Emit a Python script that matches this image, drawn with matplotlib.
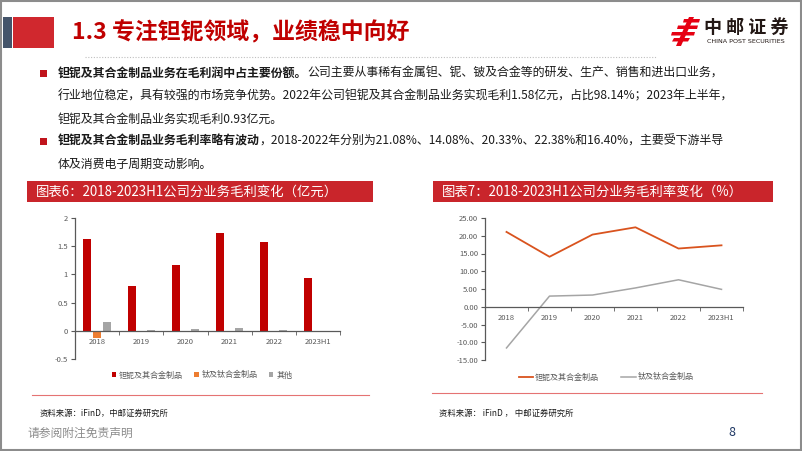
import matplotlib.pyplot as plt
from matplotlib.patches import Rectangle, Polygon
from matplotlib.lines import Line2D

plt.rcParams['font.family'] = ['Noto Sans CJK SC', 'DejaVu Sans']

W, H = 802, 451

# ── data ──────────────────────────────────────────────────────────────────────
years = ['2018', '2019', '2020', '2021', '2022', '2023H1']

tanb_profit = [1.63, 0.79, 1.17, 1.73, 1.58, 0.93]     # 钽铌及其合金制品 (亿元)
ti_profit = [-0.12, 0.0, 0.005, 0.0, 0.005, 0.0]       # 钛及钛合金制品
other_profit = [0.15, 0.01, 0.03, 0.05, 0.01, 0.005]   # 其他

tanb_margin = [21.08, 14.08, 20.33, 22.38, 16.40, 17.3]  # %
ti_margin = [-11.6, 3.0, 3.3, 5.3, 7.6, 4.9]

profit_labels = ['钽铌及其合金制品', '钛及钛合金制品', '其他']
margin_labels = ['钽铌及其合金制品', '钛及钛合金制品']

RED = '#C00000'
TITLE_RED = '#C9252B'
ORANGE = '#ED7D31'
GRAY = '#A5A5A5'
LINE_ORANGE = '#D9531E'
AXIS = '#595959'


# ── helpers ───────────────────────────────────────────────────────────────────
def fx(x):
    return x / W


def fy(y):
    return 1 - y / H


def add_ax(x0, y0, x1, y1):
    return fig.add_axes([fx(x0), fy(y1), (x1 - x0) / W, (y1 - y0) / H])


def rect(x0, y0, x1, y1, **kw):
    fig.patches.append(Rectangle((fx(x0), fy(y1)), (x1 - x0) / W, (y1 - y0) / H,
                                 transform=fig.transFigure, **kw))


def poly(pts, color):
    fig.add_artist(Polygon([(fx(a), fy(b)) for a, b in pts], closed=True,
                           transform=fig.transFigure, facecolor=color,
                           edgecolor='none'))


def hline(x0, x1, y, **kw):
    fig.add_artist(Line2D([fx(x0), fx(x1)], [fy(y), fy(y)],
                          transform=fig.transFigure, **kw))


def style_axes(ax):
    for s in ['top', 'right']:
        ax.spines[s].set_visible(False)
    for s in ['left', 'bottom']:
        ax.spines[s].set_color(AXIS)
        ax.spines[s].set_linewidth(0.9)
    ax.spines['bottom'].set_position(('data', 0))
    ax.set_xlim(-0.5, len(years) - 0.5)
    ax.set_xticks(range(len(years)))
    ax.set_xticklabels(years)
    ax.set_xticks([i - 0.5 for i in range(len(years) + 1)], minor=True)
    ax.tick_params(axis='x', which='major', length=0, pad=5,
                   labelsize=5.5, labelcolor=AXIS)
    ax.tick_params(axis='x', which='minor', length=3, color=AXIS, direction='out')
    ax.tick_params(axis='y', length=3, color=AXIS, labelsize=5.5,
                   labelcolor=AXIS, pad=2)
    ax.patch.set_alpha(0)


fig = plt.figure(figsize=(W / 100, H / 100), dpi=100)
fig.patch.set_facecolor('white')

# ── slide frame & header ──────────────────────────────────────────────────────
rect(0.5, 0.5, 800.5, 449.5, facecolor='none', edgecolor='#8C8C8C', lw=1.5)
rect(3, 17, 12, 48, facecolor='#44546A', edgecolor='none')
rect(13, 17, 54, 48, facecolor='#D0282E', edgecolor='none')
fig.text(fx(72), fy(33), '1.3 专注钽铌领域，业绩稳中向好', fontsize=16.5,
         fontweight='bold', color=RED, va='center', ha='left')
hline(85, 657, 57, color='#BFBFBF', lw=0.8, ls=(0, (1, 1.5)))

# logo
logo_red = '#E60012'
for (x0, x1, y) in [(683, 699, 19), (677, 697, 25.5), (671, 694, 32)]:
    poly([(x0 + 1, y), (x1 + 1, y), (x1, y + 3.5), (x0, y + 3.5)], logo_red)
poly([(689, 17), (694, 17), (681, 46), (676, 46)], logo_red)
poly([(674, 38), (690, 38), (688, 41.5), (672, 41.5)], logo_red)
fig.text(fx(746), fy(27), '中 邮 证 券', fontsize=13, fontweight='bold',
         color='#231815', ha='center', va='center')
fig.text(fx(746), fy(41.5), 'CHINA POST SECURITIES', fontsize=4.6,
         color='#231815', ha='center', va='center', family='DejaVu Sans')

# ── bullet text ───────────────────────────────────────────────────────────────
BODY = 8.6
TXT = '#1A1A1A'
lines = [
    ('钽铌及其合金制品业务在毛利润中占主要份额。',
     '公司主要从事稀有金属钽、铌、铍及合金等的研发、生产、销售和进出口业务，'),
    ('', '行业地位稳定，具有较强的市场竞争优势。2022年公司钽铌及其合金制品业务实现毛利1.58亿元，占比98.14%；2023年上半年，'),
    ('', '钽铌及其合金制品业务实现毛利0.93亿元。'),
    ('钽铌及其合金制品业务毛利率略有波动',
     '，2018-2022年分别为21.08%、14.08%、20.33%、22.38%和16.40%，主要受下游半导'),
    ('', '体及消费电子周期变动影响。'),
]
line_y = [73, 96, 119, 141.5, 164.5]
for (bold, normal), y in zip(lines, line_y):
    if bold:
        rect(40, y - 3.5, 47, y + 3.5, facecolor='#C0141C', edgecolor='none')
        t = fig.text(fx(58), fy(y), bold, fontsize=BODY, fontweight='bold',
                     color=TXT, va='center', ha='left')
        # normal text continues right after the bold lead-in
        fig.add_artist(plt.Annotation(normal, xy=(1, 0.5), xycoords=t,
                                      fontsize=BODY, color=TXT,
                                      va='center', ha='left'))
    else:
        fig.text(fx(58), fy(y), normal, fontsize=BODY, color=TXT,
                 va='center', ha='left')

# ── chart title bars ──────────────────────────────────────────────────────────
rect(27, 181, 373, 202, facecolor=TITLE_RED, edgecolor='none')
fig.text(fx(36), fy(191.5), '图表6：2018-2023H1公司分业务毛利变化（亿元）',
         fontsize=9.6, color='white', va='center', ha='left')
rect(433, 181, 773, 202, facecolor=TITLE_RED, edgecolor='none')
fig.text(fx(442), fy(191.5), '图表7：2018-2023H1公司分业务毛利率变化（%）',
         fontsize=9.6, color='white', va='center', ha='left')

# ── left chart: gross profit by segment ───────────────────────────────────────
ax1 = add_ax(75, 218, 340, 359)
x = list(range(len(years)))
bw = 0.18
ax1.bar([i - 0.22 for i in x], tanb_profit, width=bw, color=RED, label=profit_labels[0])
ax1.bar(x, ti_profit, width=bw, color=ORANGE, label=profit_labels[1])
ax1.bar([i + 0.22 for i in x], other_profit, width=bw, color=GRAY, label=profit_labels[2])
ax1.set_ylim(-0.5, 2)
ax1.set_yticks([-0.5, 0, 0.5, 1, 1.5, 2])
ax1.set_yticklabels(['-0.5', '0', '0.5', '1', '1.5', '2'])
style_axes(ax1)
ax1.legend(loc='center', bbox_to_anchor=(fx(202), fy(375)),
           bbox_transform=fig.transFigure, ncol=3, frameon=False,
           fontsize=5.8, handlelength=0.55, handleheight=0.55,
           handletextpad=0.35, columnspacing=1.4, labelcolor=AXIS)

# ── right chart: gross margin by segment ──────────────────────────────────────
ax2 = add_ax(485, 218, 743, 360)
ax2.plot(x, tanb_margin, color=LINE_ORANGE, lw=1.3, label=margin_labels[0])
ax2.plot(x, ti_margin, color=GRAY, lw=1.1, label=margin_labels[1])
ax2.set_ylim(-15, 25)
ax2.set_yticks(range(-15, 26, 5))
ax2.set_yticklabels([f'{v:.2f}' for v in range(-15, 26, 5)])
style_axes(ax2)
ax2.legend(loc='center', bbox_to_anchor=(fx(606), fy(377)),
           bbox_transform=fig.transFigure, ncol=2, frameon=False,
           fontsize=5.8, handlelength=1.8, handletextpad=0.2,
           columnspacing=2.8, labelcolor=AXIS)

# ── separators, sources, footer ───────────────────────────────────────────────
hline(32, 369, 395, color='#E57373', lw=0.8)
hline(432, 762, 393, color='#E57373', lw=0.8)
fig.text(fx(40), fy(413), '资料来源：iFinD，中邮证券研究所', fontsize=6,
         color=TXT, va='center', ha='left')
fig.text(fx(439), fy(413), '资料来源： iFinD ， 中邮证券研究所', fontsize=6,
         color=TXT, va='center', ha='left')
fig.text(fx(27), fy(433), '请参阅附注免责声明', fontsize=8.5, color='#8C8C8C',
         va='center', ha='left')
fig.text(fx(732), fy(432), '8', fontsize=9, color='#1F3864',
         va='center', ha='center')

fig.savefig('out.png', dpi=100)
